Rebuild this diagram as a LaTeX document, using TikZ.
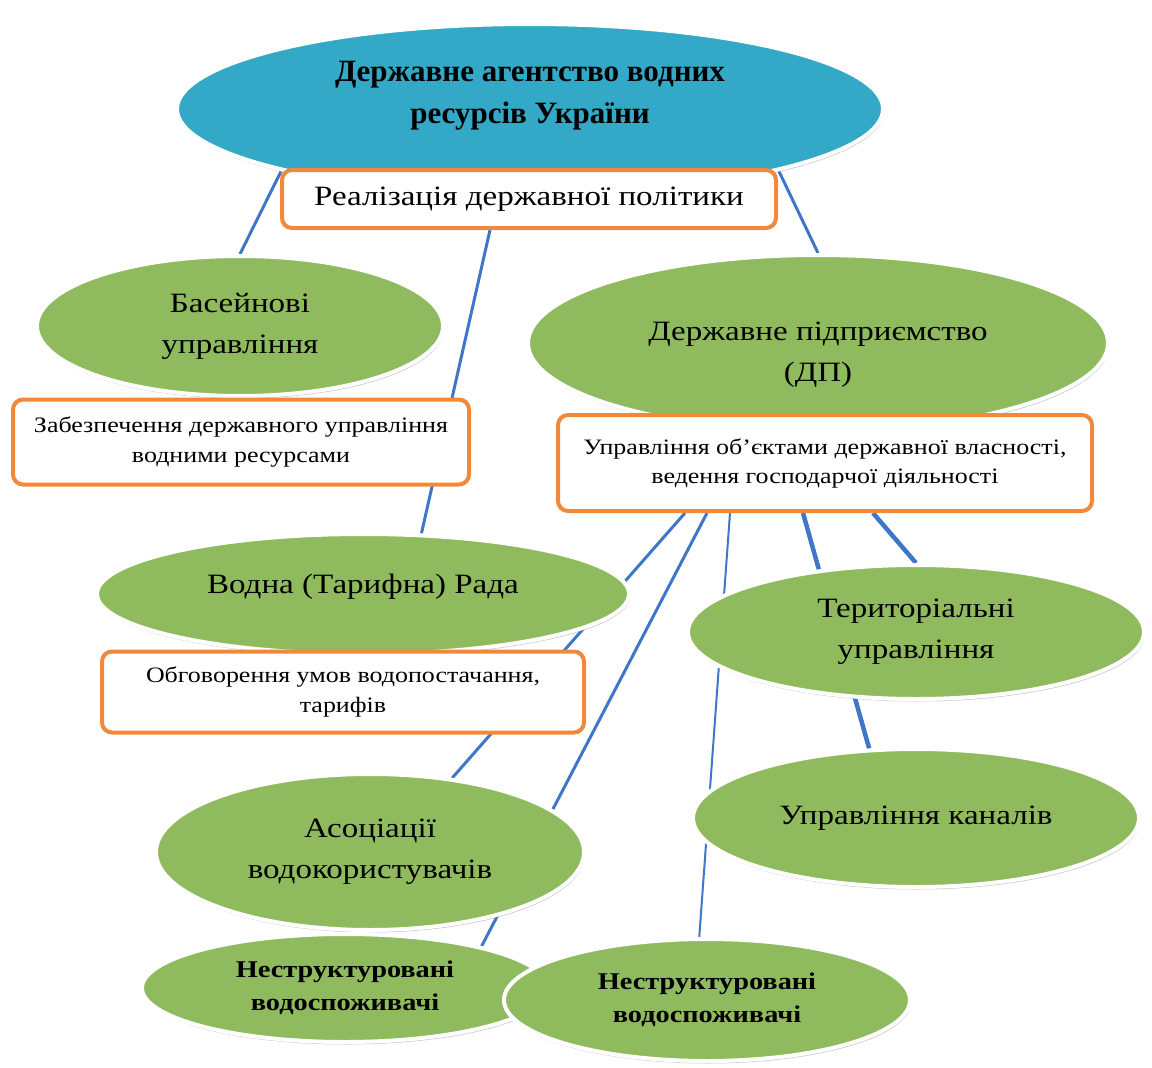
\documentclass[tikz,border=0pt]{standalone}
\usepackage{fontspec}
\setmainfont{Liberation Serif}[FakeStretch=1.18]
\newfontfamily\titlefont{Liberation Serif}
\usetikzlibrary{shapes.geometric,shadows,backgrounds}
\definecolor{agblue}{RGB}{52,168,199}
\definecolor{leafgreen}{RGB}{143,187,94}
\definecolor{boxorange}{RGB}{242,136,58}
\definecolor{linkblue}{RGB}{64,118,200}
\begin{document}
\begin{tikzpicture}[x=1pt,y=-1pt,
  ell/.style={ellipse, draw=white, line width=4pt, inner sep=0pt, align=center,
    drop shadow={shadow xshift=1pt, shadow yshift=-2.5pt, fill=black!45, opacity=.5}},
  blueell/.style={ell, fill=agblue},
  greenell/.style={ell, fill=leafgreen, font=\fontsize{28}{41}\selectfont},
  boldell/.style={ell, fill=leafgreen, font=\fontsize{24}{33}\selectfont\bfseries},
  orangebox/.style={rectangle, draw=boxorange, fill=white, line width=4pt,
    rounded corners=10pt, align=center, inner sep=0pt},
  link/.style={draw=linkblue, line width=3pt}]
\useasboundingbox (0,0) rectangle (1152,1068);
\node[blueell, minimum width=706pt, minimum height=170pt] (agency) at (530,109) {};
\node[font=\titlefont\fontsize{31}{42}\selectfont\bfseries, align=center] (agencytxt) at (530,96) {Державне агентство водних\\ресурсів України};
\node[orangebox, minimum width=494pt, minimum height=58pt, font=\fontsize{28}{34}\selectfont] (real) at (529,199) {Реалізація державної політики};
\node[greenell, minimum width=406pt, minimum height=140pt] (bas) at (240,326) {Басейнові\\управління};
\node[orangebox, minimum width=456pt, minimum height=85pt, font=\fontsize{22}{30}\selectfont] (basbox) at (241,442) {Забезпечення державного управління\\водними ресурсами};
\node[greenell, minimum width=580pt, minimum height=176pt] (dp) at (818,343) {};
\node[font=\fontsize{28}{41}\selectfont, align=center] (dptxt) at (818,355) {Державне підприємство\\(ДП)};
\node[orangebox, minimum width=534pt, minimum height=96pt, font=\fontsize{22}{29}\selectfont] (dpbox) at (825,463) {Управління об’єктами державної власності,\\ведення господарчої діяльності};
\node[greenell, minimum width=532pt, minimum height=120pt] (vod) at (363,594) {};
\node[font=\fontsize{28}{34}\selectfont] (vodtxt) at (363,587) {Водна (Тарифна) Рада};
\node[orangebox, minimum width=482pt, minimum height=81pt, font=\fontsize{22}{30}\selectfont] (vodbox) at (343,692) {Обговорення умов водопостачання,\\тарифів};
\node[greenell, minimum width=456pt, minimum height=134pt] (ter) at (916,632) {Територіальні\\управління};
\node[greenell, minimum width=446pt, minimum height=138pt] (kan) at (916,818) {Управління каналів};
\node[greenell, minimum width=428pt, minimum height=156pt] (aso) at (370,852) {Асоціації\\водокористувачів};
\node[boldell, minimum width=406pt, minimum height=108pt] (nesl) at (345,988) {Неструктуровані\\водоспоживачі};
\node[boldell, minimum width=406pt, minimum height=122pt] (nesr) at (707,1000) {Неструктуровані\\водоспоживачі};
\begin{pgfonlayer}{background}
\draw[link] (agency.194) -- (bas.north);
\draw[link] (agency.346) -- (dp.north);
\draw[link] ([xshift=-39pt]real.south) -- (vod.46);
\draw[link] ([xshift=-140pt]dpbox.south) -- (aso.42);
\draw[link] ([xshift=-118pt]dpbox.south) -- (nesl.17);
\draw[link, line width=2pt] ([xshift=-95pt]dpbox.south) -- (nesr.97);
\draw[link, line width=4.5pt] ([xshift=-22pt]dpbox.south) -- (kan.124);
\draw[link, line width=4.5pt] ([xshift=48pt]dpbox.south) -- (ter.north);
\end{pgfonlayer}
\end{tikzpicture}
\end{document}
